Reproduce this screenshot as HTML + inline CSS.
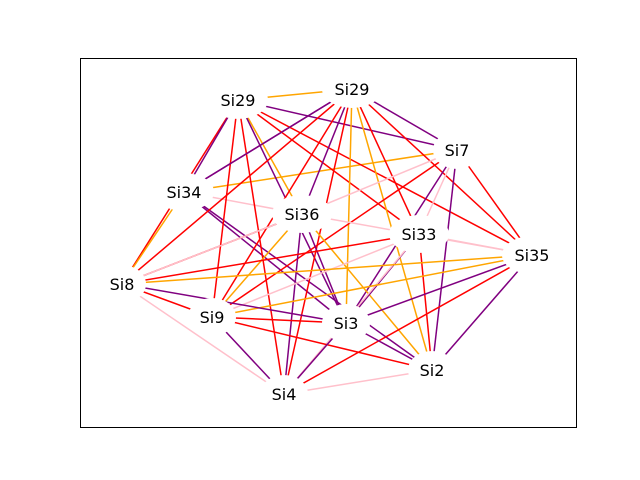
<!DOCTYPE html>
<html><head><meta charset="utf-8"><style>
html,body{margin:0;padding:0;background:#fff}
svg{display:block}
text{font-family:"DejaVu Sans","Liberation Sans",sans-serif;font-size:16px}
</style></head><body>
<svg id="chart" width="640" height="480">
<rect x="0" y="0" width="640" height="480" fill="#fff"/>
<g id="edges"></g>
<g id="nodes"></g>
<rect x="80.5" y="58.5" width="496" height="369" fill="none" stroke="#000" stroke-width="1"/>
</svg>
<script>
const nodeNames = ["Si29","Si29","Si7","Si34","Si36","Si33","Si35","Si8","Si9","Si3","Si2","Si4"];
const nodeX = [238,352,457,184,302,419,532,122,212,346,432,284];
const nodeY = [100,89,150,192,214,234,255,284,317,323,370,394];
const edgeFrom = [0,0,0,3,1,3,3,3,3,0,0,0,0,0,0,1,1,1,1,1,1,1,1,1,1,2,2,2,2,2,2,4,4,4,4,4,4,5,5,5,5,5,5,6,6,6,6,6,7,7,7,8,8,8,9,9,10,3,4];
const edgeTo   = [1,2,7,0,3,2,4,9,10,4,9,5,6,8,11,4,8,7,11,9,10,5,6,2,3,4,5,9,10,8,6,7,8,9,10,11,6,7,9,8,6,10,11,7,8,9,10,11,8,9,11,9,10,11,11,10,11,7,7];
const edgeColor= ["orange","purple","red","purple","purple","orange","pink","purple","purple","orange","purple","red","red","red","red","purple","red","red","red","orange","orange","red","red","purple","purple","pink","pink","purple","purple","red","red","red","orange","purple","orange","purple","pink","red","purple","pink","pink","red","pink","orange","orange","purple","purple","red","red","purple","pink","red","red","purple","purple","purple","pink","orange","pink"];
const NS="http://www.w3.org/2000/svg";
const eg=document.getElementById('edges');
for(let i=0;i<edgeFrom.length;i++){
  const a=edgeFrom[i],b=edgeTo[i];
  const l=document.createElementNS(NS,'line');
  l.setAttribute('x1',nodeX[a]);l.setAttribute('y1',nodeY[a]);
  l.setAttribute('x2',nodeX[b]);l.setAttribute('y2',nodeY[b]);
  l.setAttribute('stroke',edgeColor[i]);l.setAttribute('stroke-width','1.5');
  
  
  eg.appendChild(l);
}
const ng=document.getElementById('nodes');
for(let i=0;i<nodeNames.length;i++){
  const g=document.createElementNS(NS,'g');
  
  
  const e=document.createElementNS(NS,'ellipse');
  e.setAttribute('cx',nodeX[i]);e.setAttribute('cy',nodeY[i]);
  e.setAttribute('rx',nodeNames[i].length>3?30:24);e.setAttribute('ry',19);
  e.setAttribute('fill','#fff');
  g.appendChild(e);
  const t=document.createElementNS(NS,'text');
  t.setAttribute('x',nodeX[i]);t.setAttribute('y',nodeY[i]+6);
  t.setAttribute('text-anchor','middle');
  t.textContent=nodeNames[i];
  
  
  g.appendChild(t);
  ng.appendChild(g);
}
</script>
</body></html>
